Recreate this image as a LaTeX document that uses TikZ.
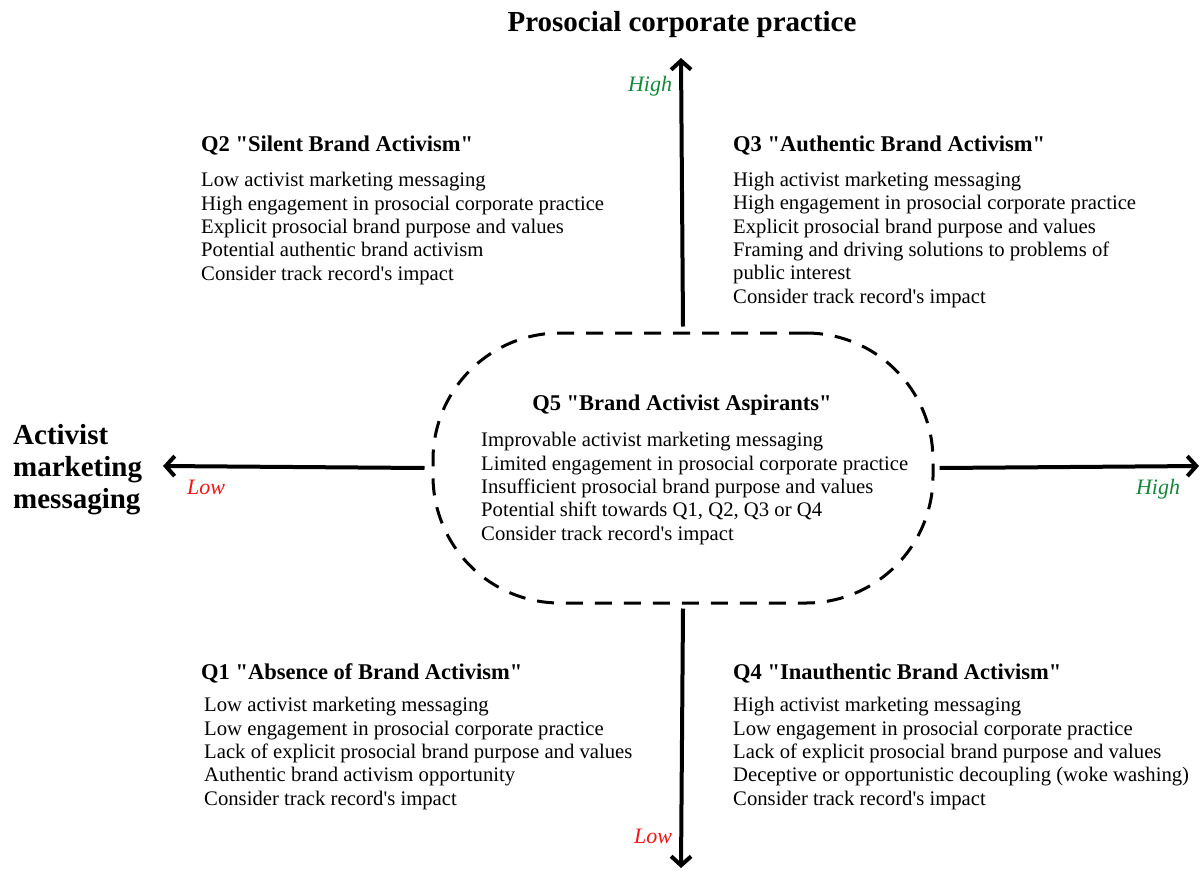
\documentclass[tikz,border=0pt]{standalone}
\usepackage{fontspec}
\setmainfont{Liberation Serif}[Ligatures=TeXOff]
\usetikzlibrary{arrows.meta}
\usetikzlibrary{positioning}

\definecolor{highgreen}{RGB}{20,135,60}
\definecolor{lowred}{RGB}{245,20,20}

\begin{document}
\begin{tikzpicture}[x=1pt,y=-1pt,
	Axis/.style={line width=4pt,-{Straight Barb[length=9pt,width=20pt]}},
	Big/.style={font=\fontsize{29}{32}\selectfont\bfseries,inner sep=0pt},
	Head/.style={font=\fontsize{22.5}{26}\selectfont\bfseries,anchor=base west,inner sep=0pt},
	Body/.style={font=\fontsize{20.7}{23.3}\selectfont,align=left,anchor=base west,inner sep=0pt},
	Tag/.style={font=\fontsize{22}{26}\selectfont\itshape,anchor=base,inner sep=0pt},
	]

	\useasboundingbox (0,0) rectangle (1201,870);

	%axis titles (multi-line nodes sit on their last baseline)
	\node[Big,anchor=base] (Prosocial) at (682,31) {Prosocial corporate practice};
	\node[Big,align=left,anchor=base west] (Activist) at (13,508) {Activist\\marketing\\messaging};

	%middle group
	\node[draw,line width=3pt,dash pattern=on 17pt off 12pt,rounded corners=127pt,
		minimum width=500pt,minimum height=270pt] (Q5box) at (683,468) {};
	\node[Head,anchor=base] (Q5) at (682,410) {Q5 "Brand Activist Aspirants"};
	\node[Body] (Q5list) at (481,540) {Improvable activist marketing messaging\\
		Limited engagement in prosocial corporate practice\\
		Insufficient prosocial brand purpose and values\\
		Potential shift towards Q1, Q2, Q3 or Q4\\
		Consider track record's impact};

	%axes
	\coordinate (ytop) at (681,58);
	\coordinate (ybot) at (681,868);
	\coordinate (xleft) at (163,466);
	\coordinate (xright) at (1199,466);
	\draw[Axis] ([yshift=5pt]Q5box.north) -- (ytop);
	\draw[Axis] ([yshift=-4pt]Q5box.south) -- (ybot);
	\draw[Axis] ([xshift=-7pt]Q5box.west) -- (xleft);
	\draw[Axis] ([xshift=5pt]Q5box.east) -- (xright);

	\node[Tag,text=highgreen] (yhigh) at (650,91) {High};
	\node[Tag,text=lowred] (ylow) at (653,843) {Low};
	\node[Tag,text=lowred] (xlow) at (206,494) {Low};
	\node[Tag,text=highgreen] (xhigh) at (1158,494) {High};

	%upper quadrants
	\node[Head] (Q2) at (201,151) {Q2 "Silent Brand Activism"};
	\node[Body] (Q2list) at (201,280) {Low activist marketing messaging\\
		High engagement in prosocial corporate practice\\
		Explicit prosocial brand purpose and values\\
		Potential authentic brand activism\\
		Consider track record's impact};

	\node[Head] (Q3) at (733,151) {Q3 "Authentic Brand Activism"};
	\node[Body] (Q3list) at (733,303) {High activist marketing messaging\\
		High engagement in prosocial corporate practice\\
		Explicit prosocial brand purpose and values\\
		Framing and driving solutions to problems of\\
		public interest\\
		Consider track record's impact};

	%lower quadrants
	\node[Head] (Q1) at (201,679) {Q1 "Absence of Brand Activism"};
	\node[Body] (Q1list) at (204,805) {Low activist marketing messaging\\
		Low engagement in prosocial corporate practice\\
		Lack of explicit prosocial brand purpose and values\\
		Authentic brand activism opportunity\\
		Consider track record's impact};

	\node[Head] (Q4) at (733,679) {Q4 "Inauthentic Brand Activism"};
	\node[Body] (Q4list) at (733,805) {High activist marketing messaging\\
		Low engagement in prosocial corporate practice\\
		Lack of explicit prosocial brand purpose and values\\
		Deceptive or opportunistic decoupling (woke washing)\\
		Consider track record's impact};

\end{tikzpicture}
\end{document}
